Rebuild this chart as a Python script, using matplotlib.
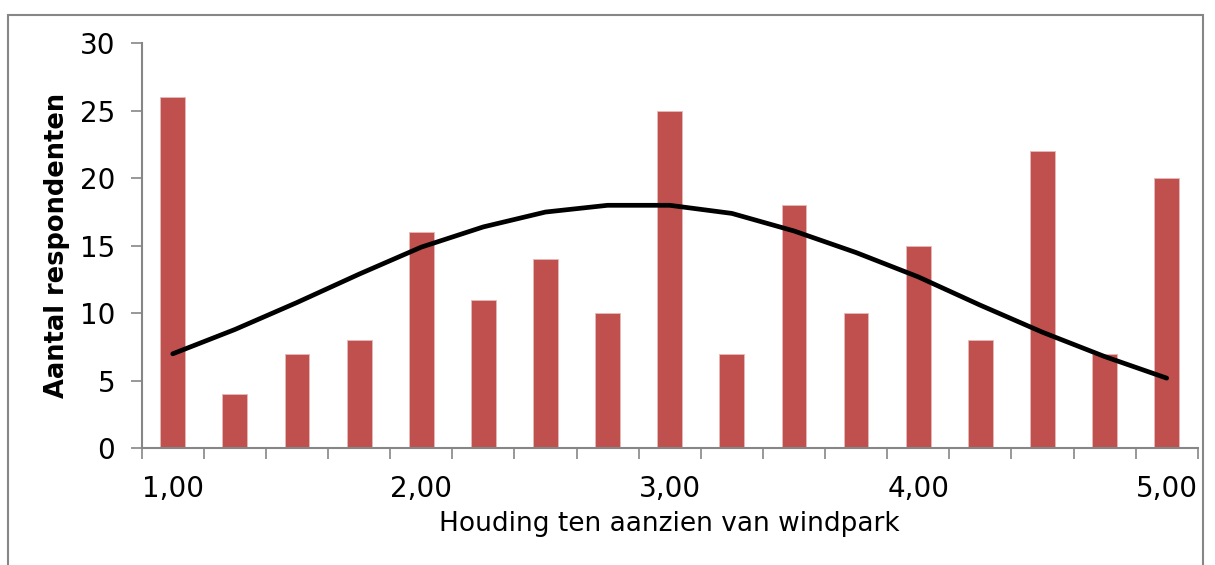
import matplotlib.pyplot as plt
import numpy as np
from matplotlib.patches import Rectangle

plt.rcParams.update({"font.family": "DejaVu Sans"})

# Houding-scores (klassen) en aantallen
klassen = ['1,00', '1,25', '1,50', '1,75', '2,00', '2,25', '2,50', '2,75', '3,00',
           '3,25', '3,50', '3,75', '4,00', '4,25', '4,50', '4,75', '5,00']
aantal = [26, 4, 7, 8, 16, 11, 14, 10, 25, 7, 18, 10, 15, 8, 22, 7, 20]
normaal = [7.0, 8.8, 10.8, 12.9, 14.9, 16.4, 17.5, 18.0, 18.0, 17.4, 16.1, 14.5,
           12.7, 10.6, 8.6, 6.8, 5.2]
labels_x = ['1,00', '2,00', '3,00', '4,00', '5,00']

grijs = '#868686'

fig = plt.figure(figsize=(12.15, 5.65), dpi=100)
ax = fig.add_axes([0.1166, 0.2065, 0.8692, 0.7169])

pos = np.arange(len(klassen))
ax.bar(pos, aantal, width=0.4, color='#C0504D', edgecolor='#E6B9B8', linewidth=0.6, zorder=2)
ax.plot(pos, normaal, color='black', linewidth=3.4, zorder=3, solid_capstyle='round')

ax.set_xlim(-0.5, len(klassen) - 0.5)
ax.set_ylim(0, 30)

ax.set_yticks(np.arange(0, 31, 5))
ax.set_xticks([klassen.index(l) for l in labels_x])
ax.set_xticklabels(labels_x)
ax.set_xticks(np.arange(-0.5, len(klassen)), minor=True)

ax.tick_params(axis='y', direction='out', length=8, width=1.2, color=grijs, labelsize=20, pad=11)
ax.tick_params(axis='x', which='major', length=0, labelsize=20, pad=19)
ax.tick_params(axis='x', which='minor', direction='out', length=8, width=1.2, color=grijs)

for s in ['top', 'right']:
    ax.spines[s].set_visible(False)
for s in ['left', 'bottom']:
    ax.spines[s].set_color(grijs)
    ax.spines[s].set_linewidth(1.5)

ax.set_xlabel('Houding ten aanzien van windpark', fontsize=19, labelpad=6)
ax.set_ylabel('Aantal respondenten', fontsize=18.5, fontweight='bold', labelpad=7)

# kader rond de figuur
fig.patches.append(Rectangle((8 / 1215, -0.05), 1195 / 1215, 1.05 - 15 / 565,
                             transform=fig.transFigure, fill=False,
                             edgecolor=grijs, linewidth=1.5))

fig.savefig('out.png', dpi=100)
